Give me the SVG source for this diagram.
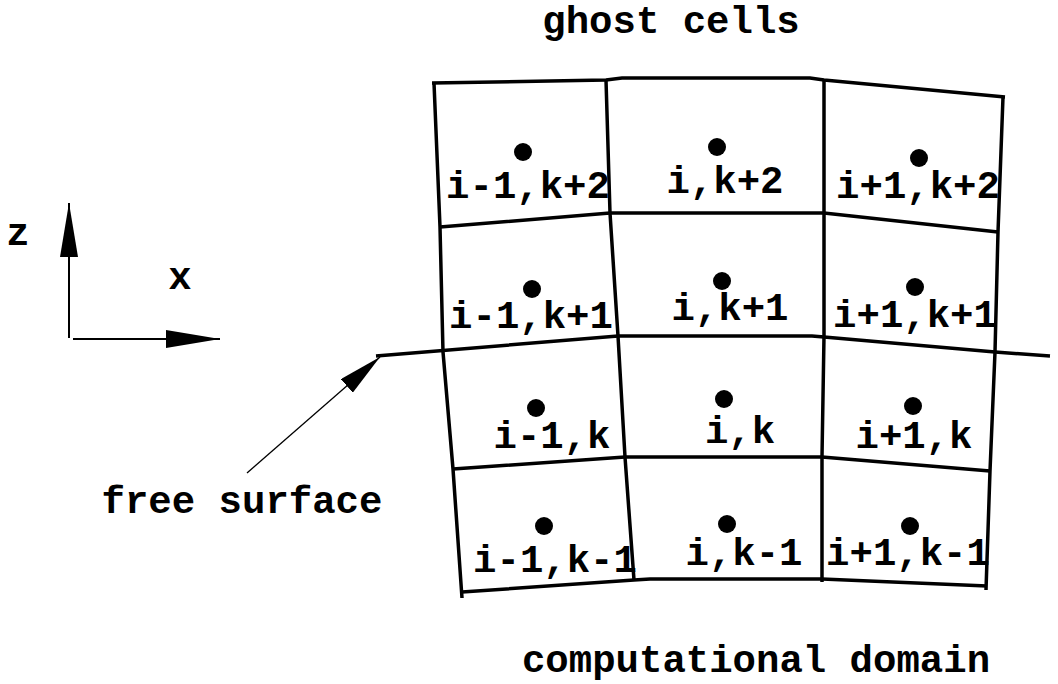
<svg xmlns="http://www.w3.org/2000/svg" width="1058" height="684" viewBox="0 0 1058 684">
  <style>
    .grid { fill: none; stroke: #000; stroke-width: 3.5; stroke-linejoin: miter; }
    .axis { fill: none; stroke: #000; stroke-width: 2; }
    .ptr { fill: none; stroke: #000; stroke-width: 1.3; }
    .lbl { font-family: "Liberation Mono", "Courier New", monospace; font-weight: bold; font-size: 39px; fill: #000; text-anchor: middle; }
    .dot { fill: #000; }
  </style>
  <defs>
    <marker id="bigHead" markerUnits="userSpaceOnUse" markerWidth="54" markerHeight="18" refX="54" refY="9" orient="auto" viewBox="0 0 54 18">
      <path d="M0,0 L54,9 L0,18 Z" fill="#000"/>
    </marker>
    <marker id="smallHead" markerUnits="userSpaceOnUse" markerWidth="44" markerHeight="18" refX="44" refY="9" orient="auto" viewBox="0 0 44 18">
      <path d="M0,0 L44,9 L0,18 Z" fill="#000"/>
    </marker>
  </defs>
  <rect width="1058" height="684" fill="#fff"/>

  <g id="grid-lines">
    <polyline class="grid" points="434,83 440,227 443,352 453,469 462,598"/>
    <polyline class="grid" points="606,80 610,213 618,336 625,457 634,580"/>
    <polyline class="grid" points="824,79 824,213 824,336 822,457 822,582"/>
    <polyline class="grid" points="1003,97 998,232 995,352 990,471 986,590"/>
    <polyline class="grid" points="432,83 606,80 622,78 810,78 824,80 1005,97"/>
    <polyline class="grid" points="440,227 610,213 824,213 998,232"/>
    <polyline class="grid" points="453,469 625,457 822,457 990,471"/>
    <polyline class="grid" points="462,592 634,580 650,579 822,579 987,586"/>
  </g>

  <g id="free-surface-line">
    <polyline class="grid" points="376,356 618,336 812,336 824,337 995,352 1050,356"/>
  </g>

  <g id="axes">
    <line class="axis" x1="69" y1="338" x2="69" y2="203" marker-end="url(#bigHead)"/>
    <line class="axis" x1="73" y1="339" x2="220" y2="339" marker-end="url(#bigHead)"/>
    <text class="lbl" x="18" y="245">z</text>
    <text class="lbl" x="180" y="289">x</text>
  </g>

  <g id="connectors">
    <line class="ptr" x1="247" y1="473" x2="380" y2="357" marker-end="url(#smallHead)"/>
  </g>

  <g id="cell-im1-kp2"><circle class="dot" cx="523" cy="152" r="9"/><text class="lbl" x="528" y="198">i-1,k+2</text></g>
  <g id="cell-i-kp2"><circle class="dot" cx="717" cy="147" r="9"/><text class="lbl" x="725" y="193">i,k+2</text></g>
  <g id="cell-ip1-kp2"><circle class="dot" cx="919" cy="158" r="9"/><text class="lbl" x="918" y="198">i+1,k+2</text></g>

  <g id="cell-im1-kp1"><circle class="dot" cx="532" cy="289" r="9"/><text class="lbl" x="531" y="328">i-1,k+1</text></g>
  <g id="cell-i-kp1"><circle class="dot" cx="722" cy="281" r="9"/><text class="lbl" x="730" y="320">i,k+1</text></g>
  <g id="cell-ip1-kp1"><circle class="dot" cx="915" cy="287" r="9"/><text class="lbl" x="915" y="327">i+1,k+1</text></g>

  <g id="cell-im1-k"><circle class="dot" cx="536" cy="408" r="9"/><text class="lbl" x="552" y="448">i-1,k</text></g>
  <g id="cell-i-k"><circle class="dot" cx="724" cy="399" r="9"/><text class="lbl" x="740" y="443">i,k</text></g>
  <g id="cell-ip1-k"><circle class="dot" cx="913" cy="406" r="9"/><text class="lbl" x="914" y="448">i+1,k</text></g>

  <g id="cell-im1-km1"><circle class="dot" cx="544" cy="526" r="9"/><text class="lbl" x="555" y="572">i-1,k-1</text></g>
  <g id="cell-i-km1"><circle class="dot" cx="727" cy="524" r="9"/><text class="lbl" x="744" y="565">i,k-1</text></g>
  <g id="cell-ip1-km1"><circle class="dot" cx="910" cy="526" r="9"/><text class="lbl" x="908" y="565">i+1,k-1</text></g>

  <g id="label-ghost-cells"><text class="lbl" x="671" y="33">ghost cells</text></g>
  <g id="label-free-surface"><text class="lbl" x="242" y="513">free surface</text></g>
  <g id="label-computational-domain"><text class="lbl" x="756" y="672">computational domain</text></g>
</svg>
